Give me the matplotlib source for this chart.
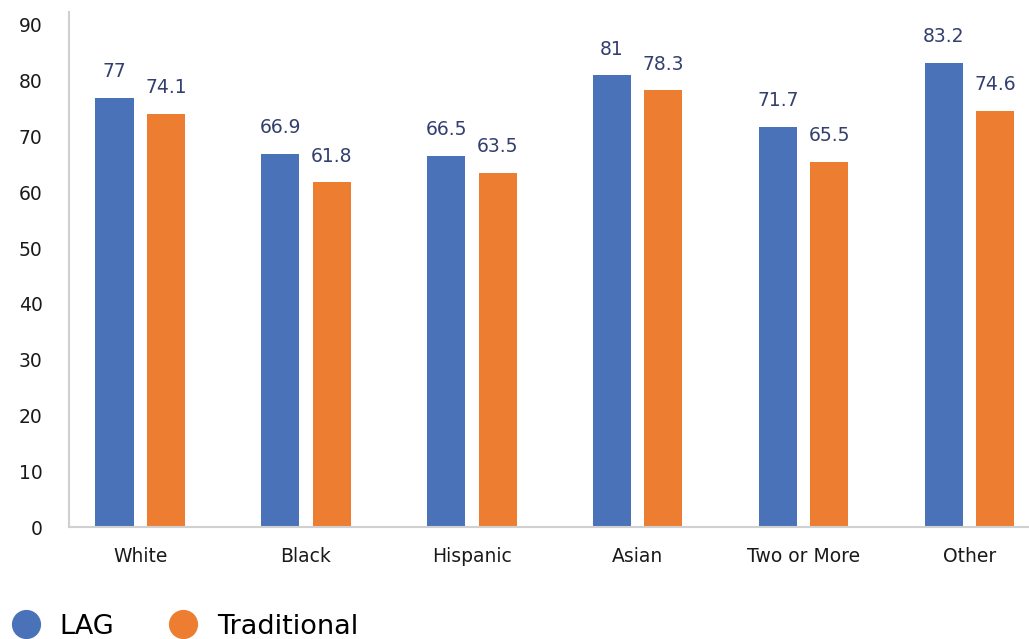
import numpy as np
import matplotlib.pyplot as plt
from matplotlib.lines import Line2D

categories = ['White', 'Black', 'Hispanic', 'Asian', 'Two or More', 'Other']
lag = [77, 66.9, 66.5, 81, 71.7, 83.2]
traditional = [74.1, 61.8, 63.5, 78.3, 65.5, 74.6]
lag_labels = ['77', '66.9', '66.5', '81', '71.7', '83.2']
trad_labels = ['74.1', '61.8', '63.5', '78.3', '65.5', '74.6']

blue = '#4a72b8'
orange = '#ed7d31'
label_color = '#333f6e'

plt.rcParams['font.family'] = 'DejaVu Sans'

fig = plt.figure(figsize=(10.29, 6.39), dpi=100)
ax = fig.add_axes([0.067, 0.175, 0.933, 0.806])

x = np.arange(len(categories))
width = 0.23
b1 = ax.bar(x - 0.155, lag, width, color=blue)
b2 = ax.bar(x + 0.155, traditional, width, color=orange)

for bars, labels in ((b1, lag_labels), (b2, trad_labels)):
    for bar, lab in zip(bars, labels):
        ax.annotate(lab, (bar.get_x() + bar.get_width() / 2, bar.get_height()),
                    xytext=(0, 12), textcoords='offset points',
                    ha='center', va='bottom', fontsize=13.5, color=label_color)

ax.set_xlim(-0.43, 5.36)
ax.set_ylim(0, 92.3)
ax.set_yticks(range(0, 91, 10))
ax.set_xticks(x)
ax.set_xticklabels(categories)
ax.tick_params(axis='both', length=0, labelsize=13.5, colors='#1a1a1a')
ax.tick_params(axis='x', pad=14)
ax.tick_params(axis='y', pad=19)
ax.spines['top'].set_visible(False)
ax.spines['right'].set_visible(False)
ax.spines['left'].set_color('#d0d0d0')
ax.spines['bottom'].set_color('#d0d0d0')
ax.spines['left'].set_linewidth(1.5)
ax.spines['bottom'].set_linewidth(1.5)

handles = [Line2D([], [], marker='o', linestyle='none', markersize=20, color=blue),
           Line2D([], [], marker='o', linestyle='none', markersize=20, color=orange)]
fig.legend(handles, ['LAG', 'Traditional'], loc='lower left', bbox_to_anchor=(-0.025, -0.039),
           ncol=2, frameon=False, fontsize=19.5, handletextpad=0.25, columnspacing=1.55)

fig.savefig('out.png', dpi=100)
